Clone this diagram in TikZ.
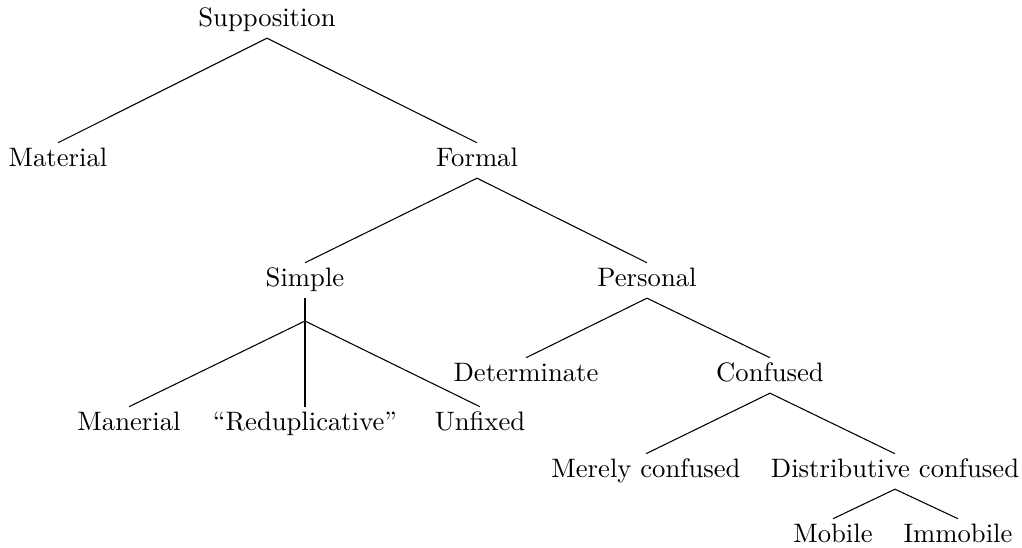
\documentclass[tikz,border=0pt]{standalone}
\usepackage{tikz}

\tikzset{term/.style={anchor=base, inner sep=2pt, text height=6.9pt, text depth=2pt}}

\begin{document}
\begin{tikzpicture}[x=0.375pt, y=-0.375pt]
		\useasboundingbox (0,0) rectangle (1022,548);
		\node[term] (supp) at (267,27) {Supposition};
		\node[term] (mat) at (58,167) {Material};
		\node[term] (form) at (477,167) {Formal};
		\node[term] (simp) at (305,287) {Simple};
		\node[term] (pers) at (647,287) {Personal};
		\node[term] (det) at (526,382) {Determinate};
		\node[term] (conf) at (770,382) {Confused};
		\node[term] (maner) at (129,431) {Manerial};
		\node[term] (redup) at (305,431) {“Reduplicative”};
		\node[term] (unfix) at (480,431) {Unfixed};
		\node[term] (mere) at (646,478) {Merely confused};
		\node[term] (dist) at (895,478) {Distributive confused};
		\node[term] (mob) at (833,543) {Mobile};
		\node[term] (immob) at (958,543) {Immobile};
		\coordinate (fork) at (305,321);
		\draw (supp.south) -- (mat.north);
		\draw (supp.south) -- (form.north);
		\draw (form.south) -- (simp.north);
		\draw (form.south) -- (pers.north);
		\draw (simp.south) -- (fork);
		\draw (fork) -- (maner.north);
		\draw (fork) -- (redup.north);
		\draw (fork) -- (unfix.north);
		\draw (pers.south) -- (det.north);
		\draw (pers.south) -- (conf.north);
		\draw (conf.south) -- (mere.north);
		\draw (conf.south) -- (dist.north);
		\draw (dist.south) -- (mob.north);
		\draw (dist.south) -- (immob.north);
	\end{tikzpicture}
\end{document}
